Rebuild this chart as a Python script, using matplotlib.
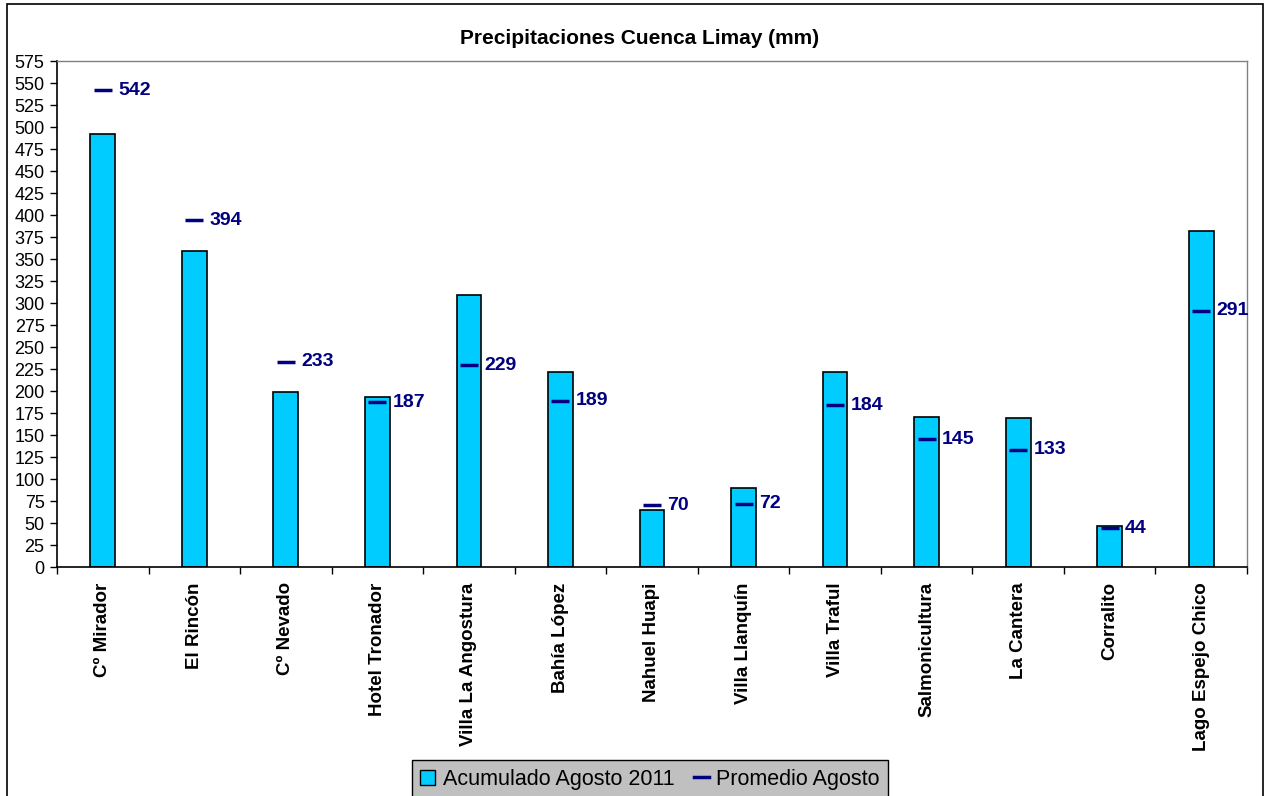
import numpy as np
import matplotlib.pyplot as plt
from matplotlib.patches import Rectangle
from matplotlib.lines import Line2D

plt.rcParams['font.family'] = ['Liberation Sans', 'DejaVu Sans']

# Data
estaciones = ['Cº Mirador', 'El Rincón', 'Cº Nevado', 'Hotel Tronador',
              'Villa La Angostura', 'Bahía López', 'Nahuel Huapi',
              'Villa Llanquín', 'Villa Traful', 'Salmonicultura',
              'La Cantera', 'Corralito', 'Lago Espejo Chico']
acumulado = [492, 359, 199, 193, 309, 222, 65, 90, 222, 170, 169, 47, 382]
promedio = [542, 394, 233, 187, 229, 189, 70, 72, 184, 145, 133, 44, 291]

bar_color = '#00CCFF'
avg_color = '#000080'

fig = plt.figure(figsize=(12.66, 7.96), dpi=100)
ax = fig.add_axes([57 / 1266, 1 - 567 / 796, (1247 - 57) / 1266, (567 - 61) / 796])

x = np.arange(len(estaciones))
ax.bar(x, acumulado, width=0.27, color=bar_color, edgecolor='black', linewidth=1.2, zorder=2)
ax.plot(x, promedio, linestyle='none', marker='_', markersize=12.5,
        markeredgewidth=2.5, color=avg_color, zorder=3)
for xi, v in zip(x, promedio):
    ax.annotate(str(v), (xi, v), xytext=(11, 0), textcoords='offset points',
                ha='left', va='center', fontsize=14, fontweight='bold',
                color=avg_color, zorder=4)

ax.set_xlim(-0.5, len(estaciones) - 0.5)
ax.set_ylim(0, 575)
ax.set_yticks(np.arange(0, 576, 25))
ax.tick_params(axis='y', labelsize=13, length=5, width=1, direction='out', pad=4)

ax.set_xticks(x)
ax.set_xticklabels(estaciones, rotation=90, fontsize=13.5, fontweight='bold')
ax.tick_params(axis='x', length=0, pad=11)
ax.set_xticks(np.arange(-0.5, len(estaciones), 1), minor=True)
ax.tick_params(axis='x', which='minor', length=5, width=1, direction='out')

for s in ['left', 'bottom']:
    ax.spines[s].set_color('black')
    ax.spines[s].set_linewidth(1.2)
for s in ['top', 'right']:
    ax.spines[s].set_color('#808080')
    ax.spines[s].set_linewidth(1)

fig.text(640 / 1266, 1 - 39 / 796, 'Precipitaciones Cuenca Limay (mm)',
         ha='center', va='center', fontsize=15, fontweight='bold')

# figure border (bottom edge falls outside the picture)
fig.patches.append(Rectangle((7 / 1266, -0.05), (1263 - 7) / 1266, 1.05 - 4 / 796,
                             transform=fig.transFigure, fill=False,
                             edgecolor='black', linewidth=1.2))

handles = [Rectangle((0, 0), 1, 1, facecolor=bar_color, edgecolor='black', linewidth=1),
           Line2D([], [], color=avg_color, linewidth=2.5)]
leg = fig.legend(handles, ['Acumulado Agosto 2011', 'Promedio Agosto'],
                 loc='upper center', bbox_to_anchor=(650 / 1266, 1 - 760 / 796),
                 ncol=2, fontsize=15.5, frameon=True, fancybox=False,
                 handlelength=0.7, handleheight=0.7, handletextpad=0.35,
                 columnspacing=0.9, borderpad=0.4, borderaxespad=0)
leg.get_frame().set_facecolor('#C0C0C0')
leg.get_frame().set_edgecolor('black')
leg.get_frame().set_alpha(1)

fig.savefig('out.png', dpi=100)
